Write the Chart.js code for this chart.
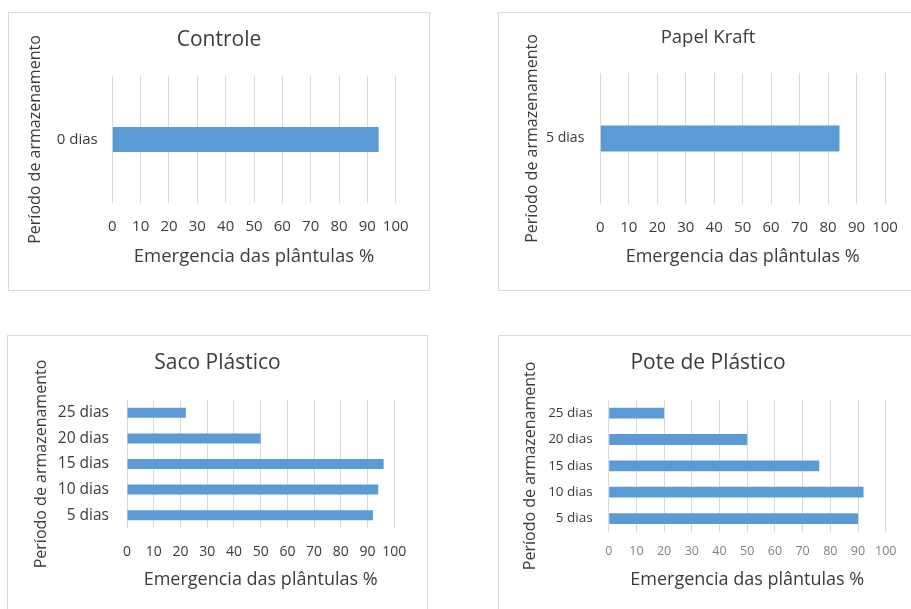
<!DOCTYPE html>
<html>
<head>
<meta charset="utf-8">
<script src="https://cdn.jsdelivr.net/npm/chart.js@4/dist/chart.umd.min.js"></script>
<style>
  html, body { margin: 0; padding: 0; background: #fff; width: 911px; height: 609px; overflow: hidden; }
  .panel { position: absolute; background: #fff; outline: 1px solid #d9d9d9; outline-offset: -1px; }
  .panel canvas { position: absolute; left: 0; top: 0; }
</style>
</head>
<body>
<div class="panel" style="left:8px;top:12px;width:422px;height:279px"><canvas id="cControle" width="422" height="279"></canvas></div>
<div class="panel" style="left:498px;top:12px;width:420px;height:279px"><canvas id="cKraft" width="420" height="279"></canvas></div>
<div class="panel" style="left:7px;top:335px;width:421px;height:279px"><canvas id="cSaco" width="421" height="279"></canvas></div>
<div class="panel" style="left:498px;top:335px;width:420px;height:279px"><canvas id="cPote" width="420" height="279"></canvas></div>
<script>
// Emergência das plântulas (%) por período de armazenamento e embalagem
const xTicks = [0, 10, 20, 30, 40, 50, 60, 70, 80, 90, 100];
const xAxisTitle = 'Emergencia das plântulas %';
const yAxisTitle = 'Período de armazenamento';

const controleLabels = ['0 dias'];
const controleValues = [94];

const kraftLabels = ['5 dias'];
const kraftValues = [84];

const sacoLabels = ['5 dias', '10 dias', '15 dias', '20 dias', '25 dias'];
const sacoValues = [92, 94, 96, 50, 22];

const poteLabels = ['5 dias', '10 dias', '15 dias', '20 dias', '25 dias'];
const poteValues = [90, 92, 76, 50, 20];

const FONT = '"Open Sans", "Noto Sans", "DejaVu Sans", sans-serif';
const TEXT = '#3b3b3b';
const BAR = '#5b9bd5';
const GRID = '#d9d9d9';

function makePanel(canvasId, title, labels, values, s) {
  return new Chart(document.getElementById(canvasId), {
    type: 'bar',
    data: {
      labels: labels,
      datasets: [{
        data: values,
        backgroundColor: BAR,
        borderWidth: 0,
        barPercentage: s.bar,
        categoryPercentage: 1
      }]
    },
    options: {
      indexAxis: 'y',
      responsive: false,
      animation: false,
      events: [],
      layout: { padding: 0 },
      plugins: {
        legend: { display: false },
        tooltip: { enabled: false },
        title: {
          display: true,
          text: title,
          color: TEXT,
          font: { family: FONT, size: s.titleSize, weight: 'normal', lineHeight: 1.2 },
          padding: { top: s.titleTop, bottom: s.titleBottom }
        }
      },
      scales: {
        x: {
          type: 'linear',
          min: 0,
          max: 100,
          afterBuildTicks: (axis) => { axis.ticks = xTicks.map(v => ({ value: v })); },
          afterFit: (axis) => {
            axis.height = s.xHeight;
            // keep blank space to the right of the plot while the title stays centred on the whole panel
            axis.paddingRight = s.right;
          },
          grid: { color: GRID, lineWidth: 1, drawTicks: false },
          border: { display: false },
          ticks: {
            color: s.xTickColor,
            padding: s.xTickPad,
            maxRotation: 0,
            autoSkip: false,
            font: { family: FONT, size: s.xTickSize, lineHeight: 1.2 }
          },
          title: {
            display: true,
            text: xAxisTitle,
            color: TEXT,
            font: { family: FONT, size: s.xTitleSize, lineHeight: 1.2 },
            padding: { top: 0, bottom: s.xTitleBottom }
          }
        },
        y: {
          type: 'category',
          reverse: true,
          afterFit: (axis) => { axis.width = s.yWidth; },
          grid: { display: false, drawTicks: false },
          border: { display: false },
          ticks: {
            color: TEXT,
            padding: s.yTickPad,
            font: { family: FONT, size: s.yTickSize, lineHeight: 1.2 }
          },
          title: {
            display: true,
            text: yAxisTitle,
            color: TEXT,
            font: { family: FONT, size: 16, lineHeight: 1.2 },
            padding: { top: s.yTitlePad, bottom: 0 }
          }
        }
      }
    }
  });
}

makePanel('cControle', 'Controle', controleLabels, controleValues, {
  right: 34.3, titleSize: 21, titleTop: 15.4, titleBottom: 23.4,
  xHeight: 88, xTickPad: 15, xTickSize: 15, xTickColor: TEXT, xTitleSize: 18.5, xTitleBottom: 22.9,
  yWidth: 104.3, yTickPad: 14.6, yTickSize: 15, yTitlePad: 17.4, bar: 0.197
});

makePanel('cKraft', 'Papel Kraft', kraftLabels, kraftValues, {
  right: 33, titleSize: 18.5, titleTop: 14.9, titleBottom: 23.9,
  xHeight: 87, xTickPad: 15, xTickSize: 15, xTickColor: TEXT, xTitleSize: 18, xTitleBottom: 23.2,
  yWidth: 102.3, yTickPad: 16, yTickSize: 14, yTitlePad: 24.4, bar: 0.2
});

makePanel('cSaco', 'Saco Plástico', sacoLabels, sacoValues, {
  right: 33.7, titleSize: 21, titleTop: 15.4, titleBottom: 24.4,
  xHeight: 86, xTickPad: 15.3, xTickSize: 14, xTickColor: TEXT, xTitleSize: 18, xTitleBottom: 23.2,
  yWidth: 120, yTickPad: 18, yTickSize: 15.5, yTitlePad: 25.1, bar: 0.39
});

makePanel('cPote', 'Pote de Plástico', poteLabels, poteValues, {
  right: 32.3, titleSize: 21, titleTop: 15.4, titleBottom: 24.4,
  xHeight: 82.3, xTickPad: 12.5, xTickSize: 12.5, xTickColor: '#808080', xTitleSize: 18, xTitleBottom: 23.2,
  yWidth: 110.7, yTickPad: 16, yTickSize: 13.5, yTitlePad: 22.4, bar: 0.41
});
</script>
</body>
</html>
